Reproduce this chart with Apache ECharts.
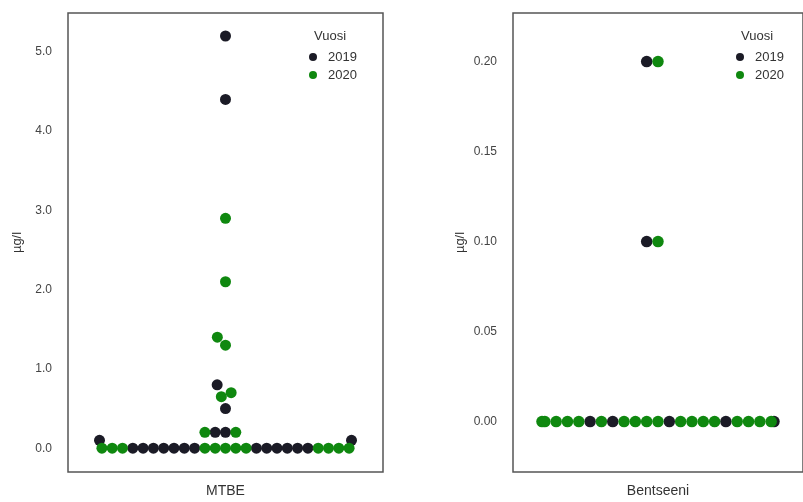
<!DOCTYPE html>
<html>
<head>
<meta charset="utf-8">
<script src="https://cdn.jsdelivr.net/npm/echarts@6/dist/echarts.min.js"></script>
<style>
  html, body { margin: 0; padding: 0; background: #fff; }
  #chart { width: 803px; height: 502px; }
</style>
</head>
<body>
<div id="chart"></div>
<script>
// --- data (long format, row order as in the source table) ---
const categories = ['MTBE', 'Bentseeni'];
const years = ['2019', '2020'];
const unitLabel = 'µg/l';
const legendTitle = 'Vuosi';

const mtbeValues = [
  0, 0, 0, 0, 0,
  0, 0, 0, 0, 0, 0, 0, 0, 0, 0, 0, 0, 0,
  0, 0, 0, 0, 0, 0, 0,
  0.1, 0.1,
  0.2, 0.2, 0.2, 0.2,
  0.5, 0.65, 0.7, 0.8, 1.3, 1.4, 2.1, 2.9, 4.4, 5.2
];
const mtbeYears = [
  '2020', '2020', '2020', '2020', '2020',
  '2019', '2019', '2019', '2019', '2019', '2019', '2019', '2019', '2019', '2019', '2019', '2019', '2019',
  '2020', '2020', '2020', '2020', '2020', '2020', '2020',
  '2019', '2019',
  '2019', '2019', '2020', '2020',
  '2019', '2020', '2020', '2019', '2020', '2020', '2020', '2020', '2019', '2019'
];

const benzValues = [
  0, 0, 0, 0, 0, 0, 0, 0, 0, 0, 0, 0,
  0, 0, 0, 0, 0, 0, 0, 0, 0, 0, 0,
  0.1, 0.1,
  0.2, 0.2
];
const benzYears = [
  '2020', '2020', '2019', '2020', '2020', '2020', '2020', '2019', '2020', '2020', '2020', '2019',
  '2019', '2020', '2020', '2020', '2020', '2020', '2020', '2020', '2020', '2020', '2019',
  '2020', '2019',
  '2020', '2019'
];

const mtbeTicks = [0, 1, 2, 3, 4, 5];
const benzTicks = [0, 0.05, 0.1, 0.15, 0.2];

const yearColors = { '2019': '#1b1b26', '2020': '#0f880f' };

// panel geometry (px)
const panels = [
  { left: 68, top: 13, width: 315, height: 459, min: -0.3, max: 5.49, gap: 10.3, reach: 13, size: 11,
    values: mtbeValues, years: mtbeYears, ticks: mtbeTicks, digits: 1, nameGap: 44 },
  { left: 513, top: 13, width: 296, height: 459, min: -0.028, max: 0.227, gap: 11.55, reach: 13, size: 11.5,
    values: benzValues, years: benzYears, ticks: benzTicks, digits: 2, nameGap: 46 }
];

// seaborn-like beeswarm: points placed by increasing value, each at the
// free candidate closest to the centre line, then clamped to the swarm width
function beeswarm(values, ppu, gap, reach, limit) {
  const order = values.map((v, i) => i).sort((a, b) => values[a] - values[b] || a - b);
  const placed = [];
  const xs = new Array(values.length);
  const need = (dy) => gap * Math.sqrt(Math.max(0, 1 - (dy / reach) ** 2));
  order.forEach(i => {
    const y = values[i] * ppu;
    const near = placed.filter(p => Math.abs(p.y - y) < reach);
    const cands = [0];
    let leftFirst = true;
    near.forEach(p => {
      const dx = need(p.y - y);
      if (leftFirst) cands.push(p.x - dx, p.x + dx);
      else cands.push(p.x + dx, p.x - dx);
      leftFirst = !leftFirst;
    });
    const sorted = cands.map((c, k) => [c, k])
      .sort((a, b) => Math.abs(a[0]) - Math.abs(b[0]) || a[1] - b[1]);
    let x = sorted[sorted.length - 1][0];
    for (const [c] of sorted) {
      const free = near.every(p => Math.abs(p.x - c) >= need(p.y - y) / 1.05 - 1e-6);
      if (free) { x = c; break; }
    }
    placed.push({ x, y });
    xs[i] = Math.max(-limit, Math.min(limit, x));
  });
  return xs;
}

const font = '"Liberation Sans", Arial, sans-serif';
const grid = [], xAxis = [], yAxis = [], series = [], legend = [], title = [];

panels.forEach((p, gi) => {
  const ppu = p.height / (p.max - p.min);
  const xs = beeswarm(p.values, ppu, p.gap, p.reach, 0.4 * p.width);
  grid.push({ left: p.left, top: p.top, width: p.width, height: p.height,
    show: true, borderColor: '#555', borderWidth: 1.5, backgroundColor: '#fff' });
  xAxis.push({
    gridIndex: gi, type: 'value', min: -0.5, max: 0.5,
    axisLine: { show: false }, axisTick: { show: false }, splitLine: { show: false },
    axisLabel: { customValues: [0], formatter: () => categories[gi], margin: 12,
      fontSize: 14, color: '#333', fontFamily: font }
  });
  yAxis.push({
    gridIndex: gi, type: 'value', min: p.min, max: p.max,
    name: unitLabel, nameLocation: 'middle', nameGap: p.nameGap,
    nameTextStyle: { fontSize: 13, color: '#333', fontFamily: font },
    axisLine: { show: false }, axisTick: { show: false }, splitLine: { show: false },
    axisLabel: { customValues: p.ticks, formatter: v => v.toFixed(p.digits), margin: 16,
      fontSize: 12, color: '#444', fontFamily: font }
  });
  years.forEach(yr => {
    const pts = [];
    p.values.forEach((v, i) => {
      if (p.years[i] === yr) pts.push([xs[i] / p.width, v]);
    });
    series.push({
      name: yr, type: 'scatter', xAxisIndex: gi, yAxisIndex: gi,
      symbolSize: p.size, data: pts,
      itemStyle: { color: yearColors[yr], opacity: 1 },
      emphasis: { disabled: true }, z: yr === '2020' ? 3 : 2
    });
  });
  const lx = p.left + p.width - (gi === 0 ? 79 : 78);
  title.push({ text: legendTitle, left: lx + 5, top: 25,
    textStyle: { fontSize: 13, fontWeight: 'normal', color: '#333', fontFamily: font } });
  legend.push({
    data: years, left: lx, top: 45, orient: 'vertical', icon: 'circle',
    itemWidth: 20, itemHeight: 8, itemGap: 4, selectedMode: false,
    textStyle: { fontSize: 13, color: '#333', lineHeight: 14, fontFamily: font }
  });
});

const chart = echarts.init(document.getElementById('chart'));
chart.setOption({
  animation: false,
  backgroundColor: '#fff',
  title, legend, grid, xAxis, yAxis, series
});
</script>
</body>
</html>
